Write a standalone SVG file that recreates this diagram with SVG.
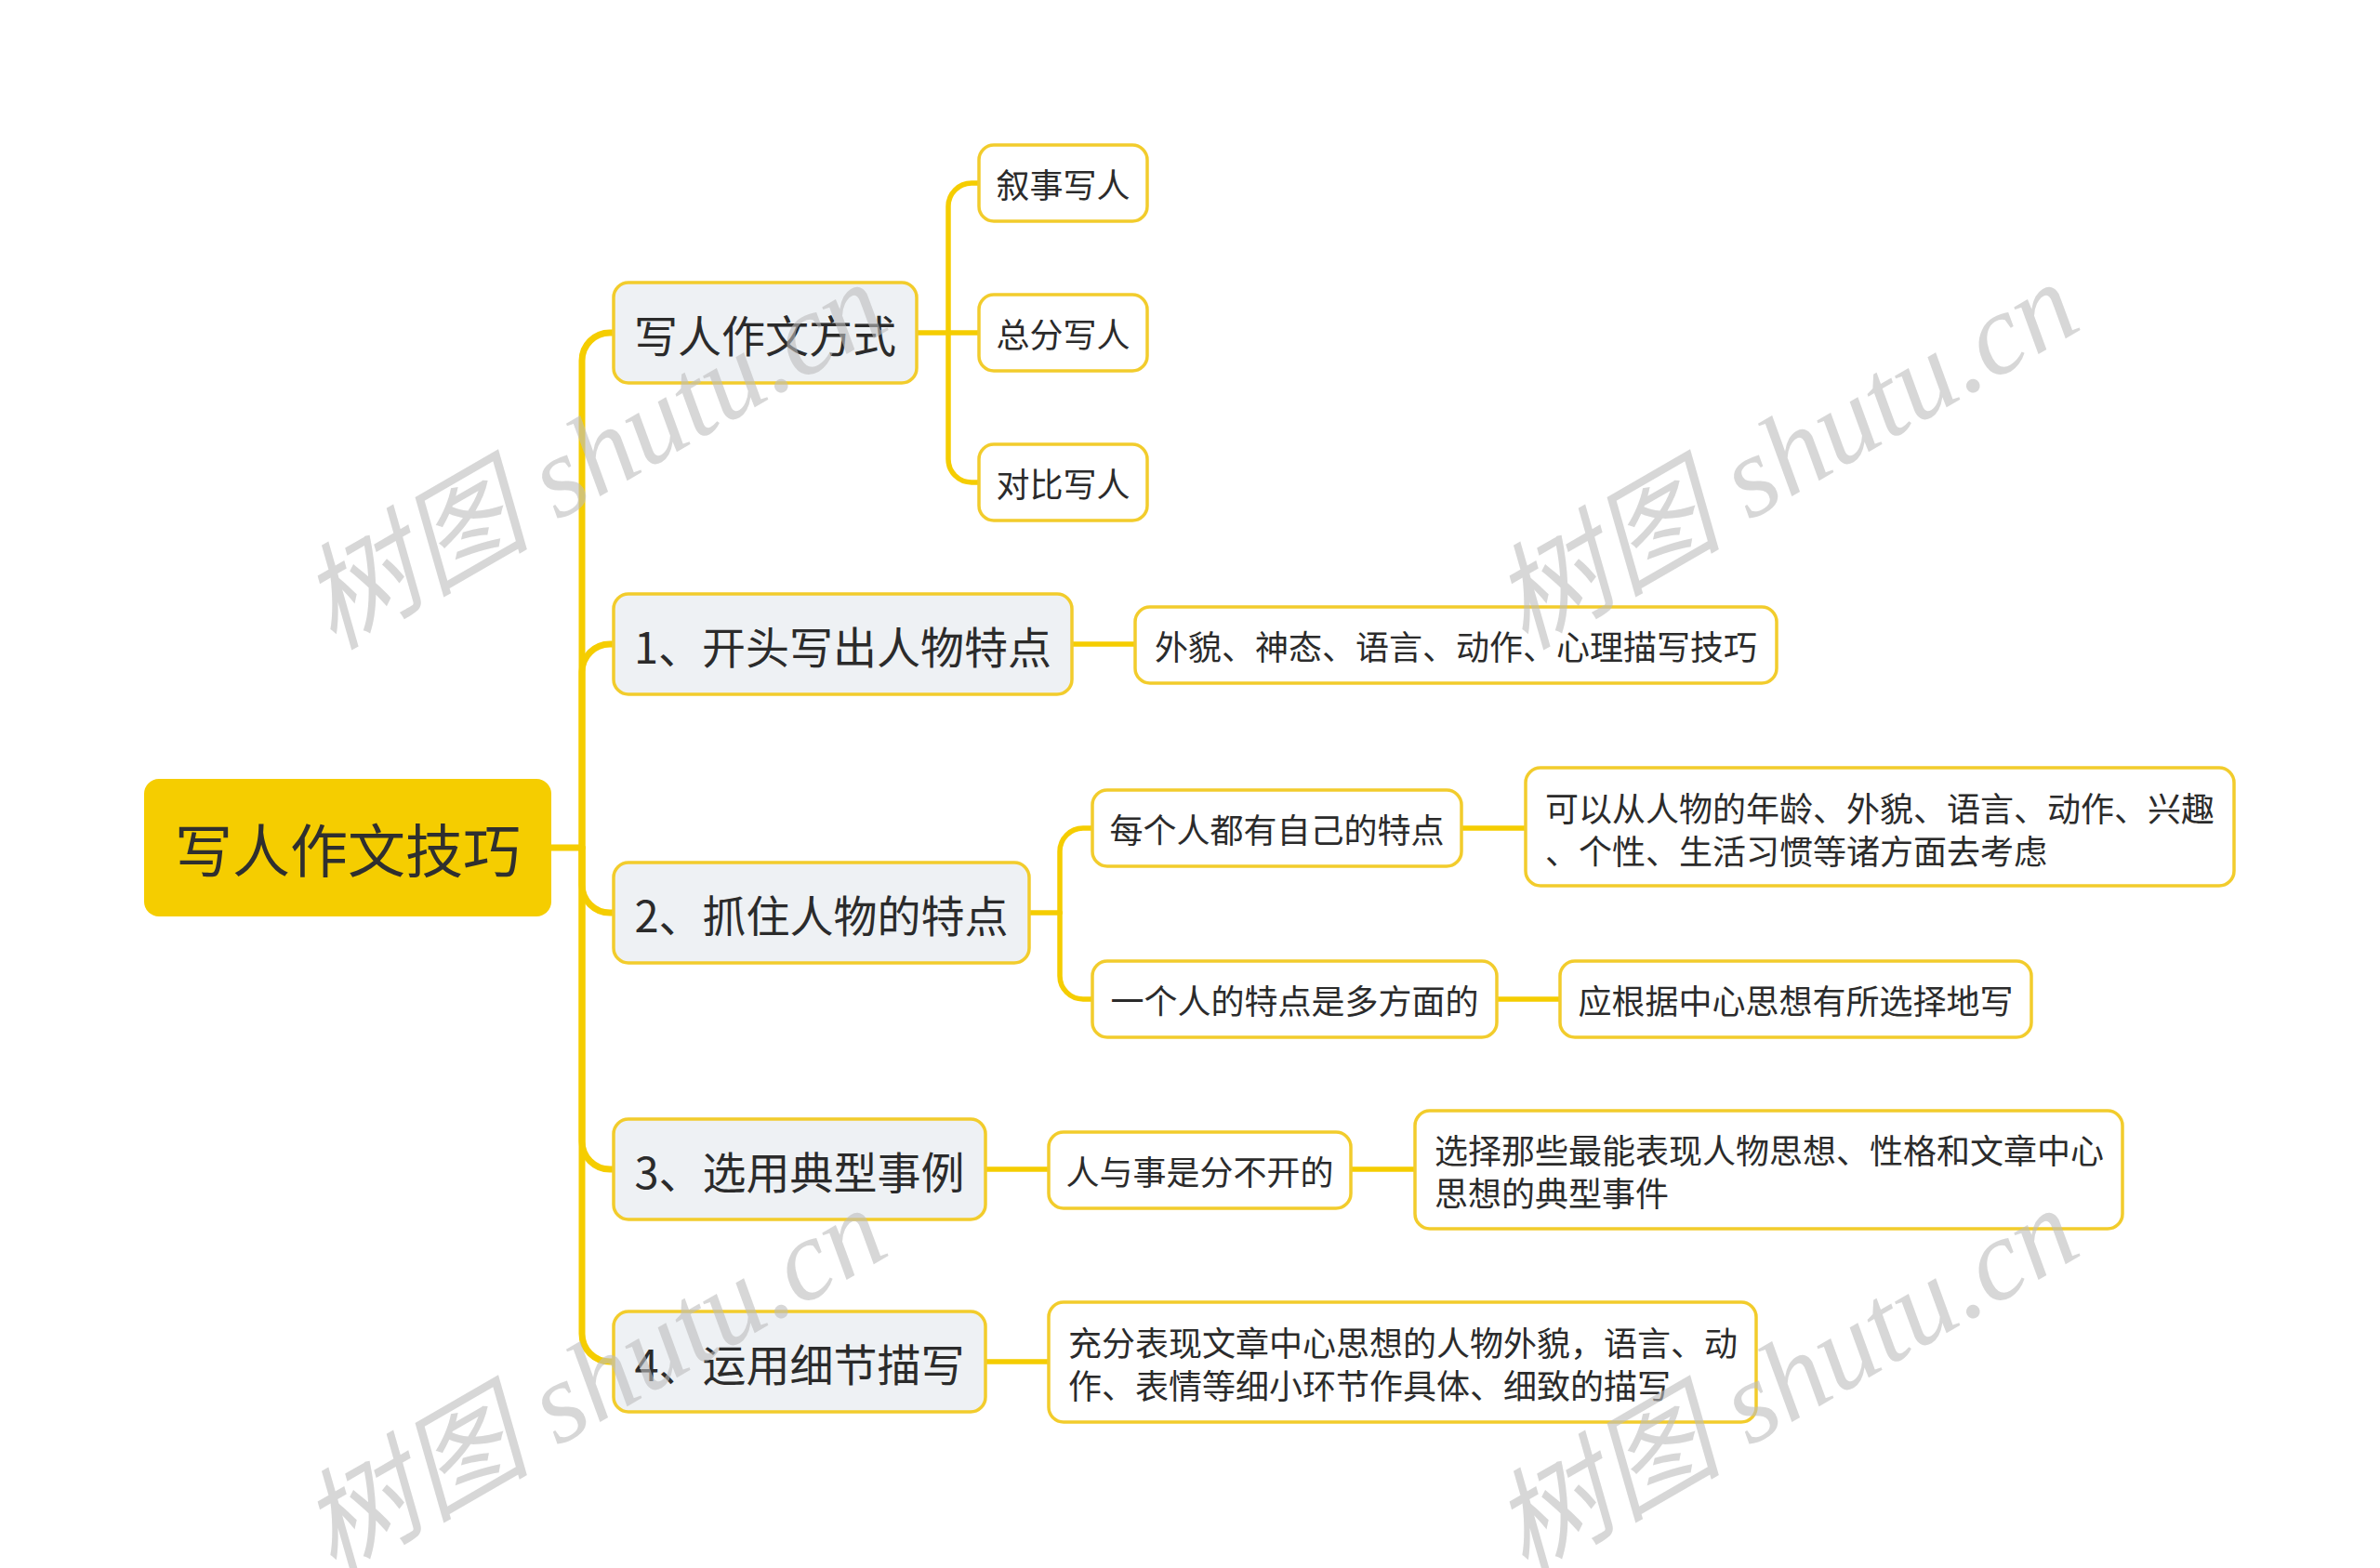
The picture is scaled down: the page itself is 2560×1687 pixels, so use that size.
<svg xmlns="http://www.w3.org/2000/svg" width="2560" height="1687" viewBox="0 0 2560 1687">
<style>
.bg{fill:#ffffff}
.root rect{fill:#F5CD00}
.root text{font-family:"Noto Sans CJK SC","Noto Sans",sans-serif;font-size:62px;fill:#2f2f2f;text-anchor:middle;dominant-baseline:central}
.l1 rect{fill:#EEF1F4;stroke:#F2CC2C;stroke-width:3.5}
.l1 text{font-family:"Noto Sans CJK SC","Noto Sans",sans-serif;font-size:47px;fill:#2b2b2b;text-anchor:middle;dominant-baseline:central}
.l2 rect{fill:#ffffff;stroke:#F2CC2C;stroke-width:3.5}
.l2 text{font-family:"Noto Sans CJK SC","Noto Sans",sans-serif;font-size:36px;fill:#2b2b2b;dominant-baseline:central}
.c{text-anchor:middle}
.s{text-anchor:start}
.conn path{fill:none;stroke:#F5CD00;stroke-linecap:round;stroke-linejoin:round}
.t{stroke-width:7}
.b{stroke-width:5.5}
.wm text{font-family:"Liberation Serif","Noto Sans CJK SC",serif;font-style:italic;font-size:124px;fill:#BDBDBD;fill-opacity:0.6}
</style>
<rect class="bg" x="0" y="0" width="2560" height="1687"/>
<g id="connectors" class="conn">
  <path class="t" d="M593,912 H626"/>
  <path class="t" d="M626,912 V388 A30,30 0 0 1 656,358 H660"/>
  <path class="t" d="M626,912 V723 A30,30 0 0 1 656,693 H660"/>
  <path class="t" d="M626,912 V952 A30,30 0 0 0 656,982 H660"/>
  <path class="t" d="M626,912 V1228 A30,30 0 0 0 656,1258 H660"/>
  <path class="t" d="M626,912 V1435 A30,30 0 0 0 656,1465 H660"/>
  <path class="b" d="M986,358 H1053"/>
  <path class="b" d="M1020,358 V222 A25,25 0 0 1 1045,197 H1053"/>
  <path class="b" d="M1020,358 V494 A25,25 0 0 0 1045,519 H1053"/>
  <path class="b" d="M1153,693 H1221"/>
  <path class="b" d="M1107,982 H1140"/>
  <path class="b" d="M1140,982 V916 A25,25 0 0 1 1165,891 H1175"/>
  <path class="b" d="M1140,982 V1050 A25,25 0 0 0 1165,1075 H1175"/>
  <path class="b" d="M1572,891 H1641"/>
  <path class="b" d="M1610,1075 H1678"/>
  <path class="b" d="M1060,1258 H1128"/>
  <path class="b" d="M1453,1258 H1522"/>
  <path class="b" d="M1060,1465 H1128"/>
</g>
<g id="root" class="root">
  <rect x="155" y="838" width="438" height="148" rx="16"/>
  <text x="374" y="912">写人作文技巧</text>
</g>
<g id="n-fangshi" class="l1">
  <rect x="660" y="304" width="326" height="108" rx="16"/>
  <text x="823" y="358">写人作文方式</text>
</g>
<g id="n-kaitou" class="l1">
  <rect x="660" y="639" width="493" height="108" rx="16"/>
  <text x="906.5" y="693">1、开头写出人物特点</text>
</g>
<g id="n-zhuazhu" class="l1">
  <rect x="660" y="928" width="447" height="108" rx="16"/>
  <text x="883.5" y="982">2、抓住人物的特点</text>
</g>
<g id="n-xuanyong" class="l1">
  <rect x="660" y="1204" width="400" height="108" rx="16"/>
  <text x="860" y="1258">3、选用典型事例</text>
</g>
<g id="n-yunyong" class="l1">
  <rect x="660" y="1411" width="400" height="108" rx="16"/>
  <text x="860" y="1465">4、运用细节描写</text>
</g>
<g id="n-xushi" class="l2">
  <rect x="1053" y="156" width="181" height="82" rx="16"/>
  <text class="c" x="1143.5" y="197">叙事写人</text>
</g>
<g id="n-zongfen" class="l2">
  <rect x="1053" y="317" width="181" height="82" rx="16"/>
  <text class="c" x="1143.5" y="358">总分写人</text>
</g>
<g id="n-duibi" class="l2">
  <rect x="1053" y="478" width="181" height="82" rx="16"/>
  <text class="c" x="1143.5" y="519">对比写人</text>
</g>
<g id="n-waimao" class="l2">
  <rect x="1221" y="653" width="690" height="82" rx="16"/>
  <text class="c" x="1566" y="694">外貌、神态、语言、动作、心理描写技巧</text>
</g>
<g id="n-meigeren" class="l2">
  <rect x="1175" y="850" width="397" height="82" rx="16"/>
  <text class="c" x="1373.5" y="891">每个人都有自己的特点</text>
</g>
<g id="n-keyi" class="l2">
  <rect x="1641" y="826" width="762" height="127" rx="16"/>
  <text class="s" x="1662" y="868">可以从人物的年龄、外貌、语言、动作、兴趣</text>
  <text class="s" x="1662" y="914">、个性、生活习惯等诸方面去考虑</text>
</g>
<g id="n-yigeren" class="l2">
  <rect x="1175" y="1034" width="435" height="82" rx="16"/>
  <text class="c" x="1392.5" y="1075">一个人的特点是多方面的</text>
</g>
<g id="n-yinggenju" class="l2">
  <rect x="1678" y="1034" width="507" height="82" rx="16"/>
  <text class="c" x="1931.5" y="1075">应根据中心思想有所选择地写</text>
</g>
<g id="n-renyushi" class="l2">
  <rect x="1128" y="1218" width="325" height="82" rx="16"/>
  <text class="c" x="1290.5" y="1259">人与事是分不开的</text>
</g>
<g id="n-xuanze" class="l2">
  <rect x="1522" y="1195" width="761" height="127" rx="16"/>
  <text class="s" x="1543" y="1236">选择那些最能表现人物思想、性格和文章中心</text>
  <text class="s" x="1543" y="1282">思想的典型事件</text>
</g>
<g id="n-chongfen" class="l2">
  <rect x="1128" y="1401" width="761" height="129" rx="16"/>
  <text class="s" x="1149" y="1443">充分表现文章中心思想的人物外貌，语言、动</text>
  <text class="s" x="1149" y="1489">作、表情等细小环节作具体、细致的描写</text>
</g>
<g id="watermarks" class="wm">
  <text transform="translate(358,700) rotate(-30)">树图 shutu.cn</text>
  <text transform="translate(1640,700) rotate(-30)">树图 shutu.cn</text>
  <text transform="translate(358,1696) rotate(-30)">树图 shutu.cn</text>
  <text transform="translate(1640,1696) rotate(-30)">树图 shutu.cn</text>
</g>
</svg>
